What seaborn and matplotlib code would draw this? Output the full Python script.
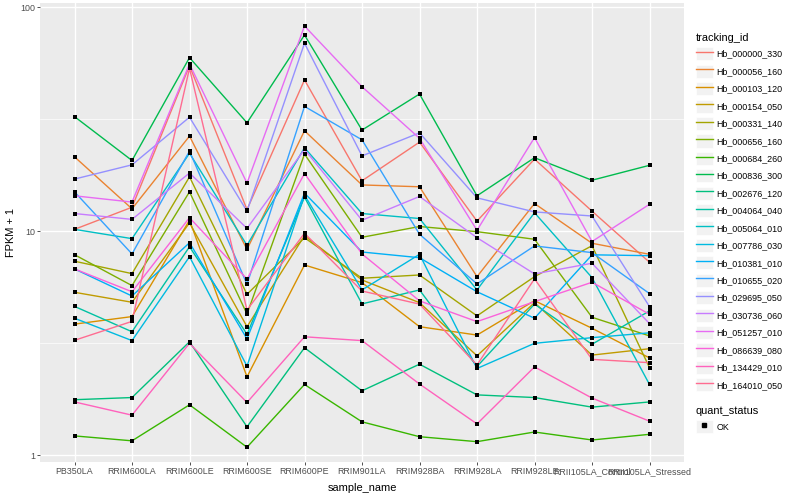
import pandas as pd
import matplotlib
matplotlib.use('Agg')
import matplotlib.pyplot as plt
import seaborn as sns
from matplotlib.lines import Line2D
from matplotlib.patches import Rectangle
from matplotlib.legend_handler import HandlerLine2D
from matplotlib.ticker import FixedLocator, NullFormatter

samples = ['PB350LA', 'RRIM600LA', 'RRIM600LE', 'RRIM600SE', 'RRIM600PE', 'RRIM901LA',
           'RRIM928BA', 'RRIM928LA', 'RRIM928LE', 'RRII105LA_Control', 'RRII105LA_Stressed']

# FPKM + 1 per gene
hb_000000_330 = [10.2, 12.8, 54.8, 12.5, 47.4, 16.8, 25.0, 11.1, 21.0, 12.3, 7.27]
hb_000056_160 = [21.5, 12.6, 26.6, 8.3, 28.1, 16.1, 15.8, 6.27, 13.3, 8.84, 7.89]
hb_000103_120 = [3.85, 4.16, 11.2, 2.24, 7.07, 5.90, 3.75, 3.44, 4.9, 3.69, 2.72]
hb_000154_050 = [5.34, 4.82, 10.9, 3.75, 9.56, 6.06, 4.80, 2.78, 4.8, 2.80, 2.99]
hb_000331_140 = [7.35, 6.47, 17.5, 5.23, 9.36, 6.17, 6.38, 4.19, 6.27, 8.62, 2.46]
hb_000656_160 = [7.86, 5.72, 15.0, 4.27, 22.1, 9.4, 10.5, 9.96, 9.21, 4.13, 3.41]
hb_000684_260 = [1.22, 1.16, 1.68, 1.086, 2.07, 1.41, 1.21, 1.15, 1.27, 1.17, 1.24]
hb_000836_300 = [32.5, 20.7, 59.6, 30.5, 75.2, 28.3, 41.0, 14.4, 21.3, 16.9, 19.7]
hb_002676_120 = [1.77, 1.81, 3.21, 1.34, 3.02, 1.94, 2.55, 1.86, 1.81, 1.64, 1.73]
hb_004064_040 = [4.62, 3.56, 8.53, 3.47, 14.2, 4.74, 5.47, 2.49, 4.73, 3.13, 4.41]
hb_005064_010 = [10.2, 9.27, 22.3, 8.66, 23.6, 12.0, 11.4, 5.47, 12.1, 6.21, 2.07]
hb_007786_030 = [4.09, 3.25, 7.70, 2.50, 14.5, 5.47, 7.89, 2.44, 3.16, 3.35, 3.52]
hb_010381_010 = [6.79, 5.14, 8.89, 3.31, 14.8, 8.08, 7.62, 5.37, 4.09, 7.85, 7.78]
hb_010655_020 = [15.0, 7.92, 22.8, 5.80, 36.1, 25.6, 9.7, 5.82, 8.6, 8.03, 5.27]
hb_029695_050 = [17.1, 19.8, 32.3, 12.3, 69.1, 21.7, 27.5, 14.1, 12.2, 11.7, 4.61]
hb_030736_060 = [12.0, 11.3, 18.2, 10.3, 23.2, 11.2, 14.3, 9.36, 6.45, 7.2, 3.87]
hb_051257_010 = [14.4, 13.5, 55.8, 16.4, 82.5, 44.2, 26.0, 10.1, 26.2, 9.0, 13.2]
hb_086639_080 = [6.79, 5.37, 11.5, 6.12, 18.1, 7.92, 4.89, 3.95, 4.85, 5.92, 4.26]
hb_134429_010 = [1.73, 1.51, 3.16, 1.72, 3.38, 3.25, 2.08, 1.38, 2.48, 1.80, 1.42]
hb_164010_050 = [3.26, 3.96, 53.4, 4.45, 9.8, 5.41, 4.73, 2.53, 6.13, 2.68, 2.59]

tracking_ids = ['Hb_000000_330', 'Hb_000056_160', 'Hb_000103_120', 'Hb_000154_050',
                'Hb_000331_140', 'Hb_000656_160', 'Hb_000684_260', 'Hb_000836_300',
                'Hb_002676_120', 'Hb_004064_040', 'Hb_005064_010', 'Hb_007786_030',
                'Hb_010381_010', 'Hb_010655_020', 'Hb_029695_050', 'Hb_030736_060',
                'Hb_051257_010', 'Hb_086639_080', 'Hb_134429_010', 'Hb_164010_050']
gene_values = [hb_000000_330, hb_000056_160, hb_000103_120, hb_000154_050, hb_000331_140,
               hb_000656_160, hb_000684_260, hb_000836_300, hb_002676_120, hb_004064_040,
               hb_005064_010, hb_007786_030, hb_010381_010, hb_010655_020, hb_029695_050,
               hb_030736_060, hb_051257_010, hb_086639_080, hb_134429_010, hb_164010_050]

# ggplot hue palette, 20 levels
palette = ['#F8766D', '#EA8331', '#D89000', '#C09B00', '#A3A500', '#7CAE00', '#39B600',
           '#00BB4E', '#00BF7D', '#00C1A3', '#00BFC4', '#00BAE0', '#00B0F6', '#35A2FF',
           '#9590FF', '#C77CFF', '#E76BF3', '#FA62DB', '#FF62BC', '#FF6C91']

rows = []
for gid, vals in zip(tracking_ids, gene_values):
    for s, v in zip(samples, vals):
        rows.append({'tracking_id': gid, 'sample_name': s, 'fpkm': v, 'quant_status': 'OK'})
df = pd.DataFrame(rows)

plt.rcParams['font.family'] = ['Liberation Sans', 'DejaVu Sans']

fig, ax = plt.subplots(figsize=(8, 5), dpi=100)
fig.subplots_adjust(left=0.05, right=0.855, bottom=0.076, top=0.994)
ax.set_facecolor('#EBEBEB')
for sp in ax.spines.values():
    sp.set_visible(False)

sns.lineplot(data=df, x='sample_name', y='fpkm', hue='tracking_id', hue_order=tracking_ids,
             palette=palette, estimator=None, sort=False, lw=1.0, legend=False, ax=ax)
sns.scatterplot(data=df, x='sample_name', y='fpkm', color='black', marker='s', s=9,
                linewidth=0, legend=False, ax=ax, zorder=3)

ax.set_yscale('log')
ax.set_ylim(0.933, 104.5)
ax.set_xlim(-0.6, 10.6)
ax.yaxis.set_major_locator(FixedLocator([1, 10, 100]))
ax.set_yticklabels(['1', '10', '100'])
ax.yaxis.set_minor_locator(FixedLocator([10 ** 0.5, 10 ** 1.5]))
ax.yaxis.set_minor_formatter(NullFormatter())
ax.grid(which='major', color='white', lw=1.0)
ax.grid(which='minor', axis='y', color='white', lw=0.5)
ax.set_axisbelow(True)
ax.tick_params(which='minor', length=0)
ax.tick_params(which='major', length=2.2, width=0.6, color='#333333', labelcolor='#4D4D4D',
               labelsize=6.4, pad=1.5)

ax.set_xlabel('sample_name', fontsize=7.9, labelpad=5)
ax.set_ylabel('FPKM + 1', fontsize=7.9)
ax.yaxis.set_label_coords(-0.0365, 0.5)


class KeyBox(HandlerLine2D):
    def create_artists(self, legend, orig_handle, xdescent, ydescent, width, height, fontsize, trans):
        box = Rectangle((-xdescent, -ydescent), width, height, facecolor='#F2F2F2',
                        edgecolor='white', lw=0.5, transform=trans)
        arts = super().create_artists(legend, orig_handle, xdescent, ydescent, width, height,
                                      fontsize, trans)
        return [box] + list(arts)


legend_kw = dict(loc='upper left', frameon=False, fontsize=6.4, title_fontsize=7.9,
                 handlelength=1.9, handleheight=1.9, labelspacing=0.48, handletextpad=0.4,
                 borderpad=0, borderaxespad=0, alignment='left', handler_map={Line2D: KeyBox()})

id_handles = [Line2D([], [], color=c, lw=1.0) for c in palette]
leg1 = fig.legend(id_handles, tracking_ids, title='tracking_id',
                  bbox_to_anchor=(696 / 800, 1 - 33 / 500), **legend_kw)
ok_handle = [Line2D([], [], color='black', ls='none', marker='s', markersize=2.9)]
leg2 = fig.legend(ok_handle, ['OK'], title='quant_status',
                  bbox_to_anchor=(696 / 800, 1 - 406 / 500), **legend_kw)

fig.savefig('out.png', dpi=100)
